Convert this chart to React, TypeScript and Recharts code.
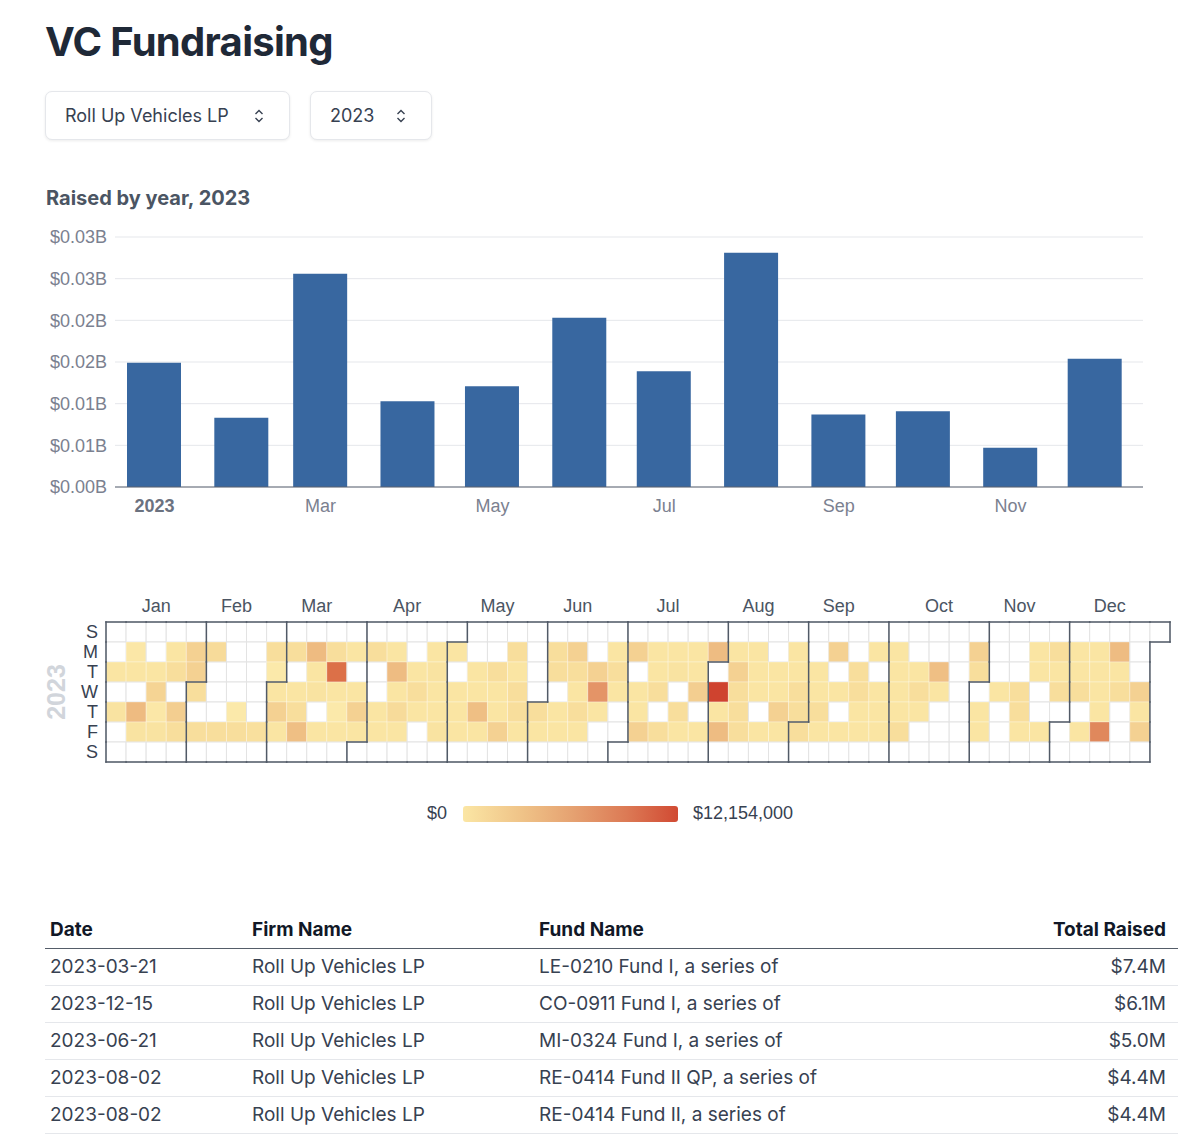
import React from 'react';
import {
  BarChart, Bar, XAxis, YAxis, CartesianGrid,
  ScatterChart, Scatter,
} from 'recharts';

const SANS = 'Inter, "Noto Sans", sans-serif';
const CHART_FONT = '"Liberation Sans", Arial, Helvetica, sans-serif';

// ---------- bar chart data ($M per month) ----------
const monthNames = ['Jan', 'Feb', 'Mar', 'Apr', 'May', 'Jun', 'Jul', 'Aug', 'Sep', 'Oct', 'Nov', 'Dec'];
const monthStartDay = [0, 31, 59, 90, 120, 151, 181, 212, 243, 273, 304, 334];
const monthlyRaised = [14.9, 8.3, 25.6, 10.3, 12.1, 20.3, 13.9, 28.1, 8.7, 9.1, 4.7, 15.4];
const barYTicks = [0, 5, 10, 15, 20, 25, 30];
const barXTicks = [0, 59, 120, 181, 243, 304];

// ---------- calendar data ($M per day, 0 = nothing raised) ----------
const janDaily = [0, 0, 0.7, 0, 0.8, 0, 0, 0, 0.6, 0.7, 0, 2.3, 0.8, 0, 0, 0, 0.7, 1.4, 0.6, 0.8, 0, 0, 0.7, 1.0, 0, 1.6, 1.0, 0, 0, 1.5, 1.5];
const febDaily = [1.0, 0, 1.0, 0, 0, 1.1, 0, 0, 0, 1.0, 0, 0, 0, 0, 0, 0.5, 1.0, 0, 0, 0, 0, 0, 0, 0.9, 0, 0, 1.0, 0.5];
const marDaily = [0.7, 1.5, 0.7, 0, 0, 1.0, 0, 0.7, 1.0, 2.1, 0, 0, 2.3, 0.7, 0.8, 0, 0.7, 0, 0, 1.0, 7.6, 0.7, 0.5, 0.7, 0, 0, 0.7, 0, 0.7, 1.5, 0.7];
const aprDaily = [0, 0, 1.0, 0, 0, 0.7, 0.7, 0, 0, 0.7, 2.2, 0.7, 1.1, 0.7, 0, 0, 0, 0.7, 1.0, 0.7, 0, 0, 0, 0.7, 0.8, 0.7, 0.7, 0.8, 0, 0];
const mayDaily = [0.7, 0, 0.7, 0.7, 0.7, 0, 0, 0, 0.7, 0.7, 2.1, 0.7, 0, 0, 0, 1.0, 0.7, 0.7, 1.5, 0, 0, 1.0, 0.7, 1.0, 1.0, 0.7, 0, 0, 0, 0, 0];
const junDaily = [1.0, 0.7, 0, 0, 1.0, 1.0, 0, 0.7, 0.7, 0, 0, 1.5, 1.0, 0.7, 1.0, 0.7, 0, 0, 0, 1.5, 5.2, 0.7, 0, 0, 0, 0.7, 1.0, 0.7, 0, 0];
const julDaily = [0, 0, 1.5, 0, 0.7, 0.7, 1.5, 0, 0, 0.7, 0.7, 1.0, 0, 1.0, 0, 0, 0.7, 0.8, 0, 1.0, 0.7, 0, 0, 0.7, 0.7, 1.6, 0, 0.7, 0, 0, 2.2];
const augDaily = [0, 12.154, 0.7, 2.2, 0, 0, 0.7, 1.5, 1.0, 1.0, 1.0, 0, 0, 0.7, 0.7, 0.7, 0, 0.7, 0, 0, 0, 0.7, 0.7, 1.5, 0.7, 0, 0, 0.7, 0.7, 1.0, 1.0];
const sepDaily = [1.0, 0, 0, 0, 0.7, 0.7, 1.0, 0.7, 0, 0, 1.5, 0, 0.7, 0, 0.7, 0, 0, 0, 1.0, 1.0, 0.7, 0.7, 0, 0, 0.7, 0, 0.7, 0.7, 0.7, 0];
const octDaily = [0, 0.7, 0.7, 0.7, 0.7, 1.0, 0, 0, 0, 0.7, 1.0, 0.7, 0, 0, 0, 0, 2.1, 0.7, 0, 0, 0, 0, 0, 0, 0, 0, 0, 0, 0, 1.5, 1.0];
const novDaily = [0, 0.7, 0.7, 0, 0, 0, 0, 0.7, 0, 0, 0, 0, 0, 0, 1.0, 1.0, 0.7, 0, 0, 0.7, 0.7, 0, 0, 0.7, 0, 0, 1.0, 0.7, 1.0, 0];
const decDaily = [0, 0, 0, 0.7, 0.7, 1.0, 0, 0.7, 0, 0, 0.7, 0.7, 0.7, 0.7, 6.2, 0, 0, 2.2, 0.7, 1.0, 0, 0, 0, 0, 0, 0, 1.5, 0.7, 1.5, 0, 0];
const dailyByMonth = [janDaily, febDaily, marDaily, aprDaily, mayDaily, junDaily, julDaily, augDaily, sepDaily, octDaily, novDaily, decDaily];
const weekdayLetters = ['S', 'M', 'T', 'W', 'T', 'F', 'S'];
const YEAR = 2023;

// value ($M) -> colour
const colorStops: [number, string][] = [
  [0, '#fcefb4'], [0.5, '#fbe9aa'], [0.7, '#fae5a3'], [1.0, '#f8de9c'], [1.5, '#f4d192'],
  [2.2, '#eebc82'], [5.2, '#e49467'], [6.2, '#e0885c'], [7.6, '#dc7048'], [12.154, '#cf432f'],
];
const legendLow = '$0';
const legendHigh = '$12,154,000';

// ---------- table ----------
const tableHeaders = ['Date', 'Firm Name', 'Fund Name', 'Total Raised'];
const tableDates = ['2023-03-21', '2023-12-15', '2023-06-21', '2023-08-02', '2023-08-02'];
const tableFirms = ['Roll Up Vehicles LP', 'Roll Up Vehicles LP', 'Roll Up Vehicles LP', 'Roll Up Vehicles LP', 'Roll Up Vehicles LP'];
const tableFunds = ['LE-0210 Fund I, a series of', 'CO-0911 Fund I, a series of', 'MI-0324 Fund I, a series of', 'RE-0414 Fund II QP, a series of', 'RE-0414 Fund II, a series of'];
const tableTotals = ['$7.4M', '$6.1M', '$5.0M', '$4.4M', '$4.4M'];

// ---------- derived ----------
const barData = monthStartDay.map((d, i) => ({ day: d, raised: monthlyRaised[i] }));

function hexToRgb(h: string) {
  const n = parseInt(h.slice(1), 16);
  return [n >> 16, (n >> 8) & 255, n & 255];
}
function cellColor(v: number) {
  for (let i = 1; i < colorStops.length; i++) {
    const [v1, c1] = colorStops[i];
    if (v <= v1) {
      const [v0, c0] = colorStops[i - 1];
      const t = (v - v0) / (v1 - v0);
      const a = hexToRgb(c0), b = hexToRgb(c1);
      return `rgb(${a.map((x, j) => Math.round(x + (b[j] - x) * t)).join(',')})`;
    }
  }
  return colorStops[colorStops.length - 1][1];
}

const jan1Dow = new Date(YEAR, 0, 1).getDay();
const calendarCells: { wk: number; dow: number; value: number; w: number; d: number; m: number }[] = [];
const monthSpan: { week: number; lastWeek: number }[] = [];
const cellMonth = new Map<string, number>();
let dayIdx = 0;
dailyByMonth.forEach((days, m) => {
  days.forEach((v, i) => {
    const pos = dayIdx + jan1Dow;
    const week = Math.floor(pos / 7), dow = pos % 7;
    if (i === 0) monthSpan.push({ week, lastWeek: week });
    monthSpan[m].lastWeek = week;
    cellMonth.set(`${week},${dow}`, m);
    calendarCells.push({ wk: week + 0.5, dow: dow + 0.5, value: v, w: week, d: dow, m });
    dayIdx++;
  });
});
const numWeeks = monthSpan[11].lastWeek + 1;
const monthCenters = monthSpan.map(s => (s.week + s.lastWeek + 1) / 2);

// ---------- heatmap layout ----------
const HM_W = 1175, HM_H = 200;
const HM_MARGIN = { top: 12, right: 13, bottom: 18, left: 0 };
const HM_YAXIS_W = 98, HM_XAXIS_H = 30;
const CELL_W = (HM_W - HM_MARGIN.left - HM_MARGIN.right - HM_YAXIS_W) / numWeeks;
const CELL_H = (HM_H - HM_MARGIN.top - HM_MARGIN.bottom - HM_XAXIS_H) / 7;

const CellShape = (p: any) => {
  const v = p.payload.value;
  return (
    <rect
      x={p.cx - CELL_W / 2}
      y={p.cy - CELL_H / 2}
      width={CELL_W}
      height={CELL_H}
      fill={v > 0 ? cellColor(v) : '#ffffff'}
      stroke={v > 0 ? '#ffffff' : '#e3e3e3'}
      strokeOpacity={v > 0 ? 0.3 : 1}
      strokeWidth={1}
    />
  );
};

// dark month outline: edges of a cell that border another month or the outside
const OutlineShape = (p: any) => {
  const { w, d, m } = p.payload;
  const x0 = p.cx - CELL_W / 2, y0 = p.cy - CELL_H / 2;
  const x1 = x0 + CELL_W, y1 = y0 + CELL_H;
  const at = (ww: number, dd: number) => cellMonth.get(`${ww},${dd}`);
  const edges: number[][] = [];
  if (at(w + 1, d) !== m) edges.push([x1, y0, x1, y1]);
  if (at(w, d + 1) !== m) edges.push([x0, y1, x1, y1]);
  if (at(w - 1, d) === undefined) edges.push([x0, y0, x0, y1]);
  if (at(w, d - 1) === undefined) edges.push([x0, y0, x1, y0]);
  return (
    <g>
      {edges.map((e, i) => (
        <line key={i} x1={e[0]} y1={e[1]} x2={e[2]} y2={e[3]} stroke="#515a67" strokeWidth={1.5} strokeLinecap="square" />
      ))}
    </g>
  );
};

const MonthTick = ({ x, y, payload }: any) => (
  <text x={x} y={y} dy={-2} textAnchor="middle" fill="#4b5563" fontSize={18} fontFamily={CHART_FONT}>
    {monthNames[monthCenters.indexOf(payload.value)]}
  </text>
);

const BarTick = ({ x, y, payload }: any) => {
  const first = payload.value === barXTicks[0];
  return (
    <text x={x} y={y} dy={17} textAnchor="middle" fill={first ? '#6b7280' : '#7b8190'}
      fontWeight={first ? 700 : 400} fontSize={18} fontFamily={CHART_FONT}>
      {first ? String(YEAR) : monthNames[monthStartDay.indexOf(payload.value)]}
    </text>
  );
};

const Chevrons = ({ left }: { left: number }) => (
  <svg width={10} height={16} style={{ position: 'absolute', left, top: 16 }}>
    <polyline points="1.5,6 5,2.5 8.5,6" fill="none" stroke="#374151" strokeWidth={1.4} />
    <polyline points="1.5,10 5,13.5 8.5,10" fill="none" stroke="#374151" strokeWidth={1.4} />
  </svg>
);

const dropdownStyle: React.CSSProperties = {
  position: 'absolute', top: 83, height: 47, border: '1px solid #e5e7eb', borderRadius: 7,
  boxShadow: '0 1px 3px rgba(0,0,0,0.08)', background: '#fff', fontFamily: SANS,
  fontSize: 18, color: '#374151', boxSizing: 'content-box',
};

const billions = (v: number) => `$${(Math.round(v / 10) / 100).toFixed(2)}B`;

export default function App() {
  const rows = tableDates.map((d, i) => [d, tableFirms[i], tableFunds[i], tableTotals[i]]);
  const colLeft = [5, 207, 494];
  return (
    <div style={{ position: 'relative', width: 1184, height: 1127, background: '#fff' }}>
      <div style={{ position: 'absolute', left: 37, top: 10, fontFamily: SANS, fontSize: 40, fontWeight: 700, color: '#1f2937', lineHeight: '48px', letterSpacing: -0.7 }}>
        VC Fundraising
      </div>

      <div style={{ ...dropdownStyle, left: 37, width: 243 }}>
        <span style={{ position: 'absolute', left: 19, top: 0, lineHeight: '47px' }}>Roll Up Vehicles LP</span>
        <Chevrons left={208} />
      </div>
      <div style={{ ...dropdownStyle, left: 302, width: 120 }}>
        <span style={{ position: 'absolute', left: 19, top: 0, lineHeight: '47px' }}>2023</span>
        <Chevrons left={85} />
      </div>

      <div style={{ position: 'absolute', left: 38, top: 178, fontFamily: SANS, fontSize: 20, fontWeight: 700, color: '#4b5563', lineHeight: '24px' }}>
        Raised by year, {YEAR}
      </div>

      <div style={{ position: 'absolute', left: 0, top: 212 }}>
        <BarChart width={1160} height={310} data={barData} margin={{ top: 17, right: 25, bottom: 13, left: 0 }}>
          <CartesianGrid vertical={false} stroke="#e5e7eb" />
          <XAxis dataKey="day" type="number" domain={[-14, 351]} ticks={barXTicks} height={30}
            axisLine={{ stroke: '#5b6270' }} tickLine={false} tick={<BarTick />} />
          <YAxis type="number" domain={[0, 30]} ticks={barYTicks} width={107} axisLine={false} tickLine={false}
            tickFormatter={billions}
            tick={{ fill: '#7b8190', fontSize: 18, fontFamily: CHART_FONT }} />
          <Bar dataKey="raised" fill="#3867a0" barSize={54} isAnimationActive={false} />
        </BarChart>
      </div>

      <div style={{ position: 'absolute', left: 37, top: 684, width: 22, height: 0 }}>
        <div style={{ position: 'absolute', left: 0, top: 0, transform: 'translate(-50%, -50%) rotate(-90deg)', transformOrigin: 'center',
          fontFamily: CHART_FONT, fontWeight: 700, fontSize: 25, color: '#d1d5db', whiteSpace: 'nowrap', marginLeft: 11 }}>
          {YEAR}
        </div>
      </div>

      <div style={{ position: 'absolute', left: 0, top: 572 }}>
        <ScatterChart width={HM_W} height={HM_H} margin={HM_MARGIN}>
          <XAxis dataKey="wk" type="number" orientation="top" domain={[0, numWeeks]} ticks={monthCenters}
            height={HM_XAXIS_H} axisLine={false} tickLine={false} tick={<MonthTick />} interval={0} />
          <YAxis dataKey="dow" type="number" reversed domain={[0, 7]} ticks={[0.5, 1.5, 2.5, 3.5, 4.5, 5.5, 6.5]}
            width={HM_YAXIS_W} axisLine={false} tickLine={false} interval={0}
            tickFormatter={(v: number) => weekdayLetters[Math.floor(v)]}
            tick={{ fill: '#374151', fontSize: 18, fontFamily: CHART_FONT }} />
          <Scatter data={calendarCells} shape={CellShape} isAnimationActive={false} />
          <Scatter data={calendarCells} shape={OutlineShape} isAnimationActive={false} />
        </ScatterChart>
      </div>

      <div style={{ position: 'absolute', left: 0, top: 794, width: 1184, height: 24, fontFamily: CHART_FONT, fontSize: 18, color: '#374151' }}>
        <span style={{ position: 'absolute', right: 1184 - 439, top: 1 }}>{legendLow}</span>
        <div style={{ position: 'absolute', left: 455, top: 4, width: 215, height: 16, borderRadius: 3,
          background: 'linear-gradient(to right, #fbe6a4, #efc287 28%, #e5a070 52%, #dc7a55 76%, #d14a33)' }} />
        <span style={{ position: 'absolute', left: 685, top: 1 }}>{legendHigh}</span>
      </div>

      <div style={{ position: 'absolute', left: 37, top: 903, width: 1133, fontFamily: SANS, fontSize: 19 }}>
        <div style={{ position: 'relative', height: 37, borderBottom: '1.5px solid #555d69', fontWeight: 700, color: '#111827' }}>
          {tableHeaders.slice(0, 3).map((h, i) => (
            <span key={h} style={{ position: 'absolute', left: colLeft[i], top: 0, lineHeight: '37px' }}>{h}</span>
          ))}
          <span style={{ position: 'absolute', right: 12, top: 0, lineHeight: '37px' }}>{tableHeaders[3]}</span>
        </div>
        {rows.map((r, ri) => (
          <div key={ri} style={{ position: 'relative', height: 36, borderBottom: '1px solid #e5e7eb', color: '#374151' }}>
            {r.slice(0, 3).map((c, i) => (
              <span key={i} style={{ position: 'absolute', left: colLeft[i], top: 0, lineHeight: '36px' }}>{c}</span>
            ))}
            <span style={{ position: 'absolute', right: 12, top: 0, lineHeight: '36px' }}>{r[3]}</span>
          </div>
        ))}
      </div>
    </div>
  );
}
